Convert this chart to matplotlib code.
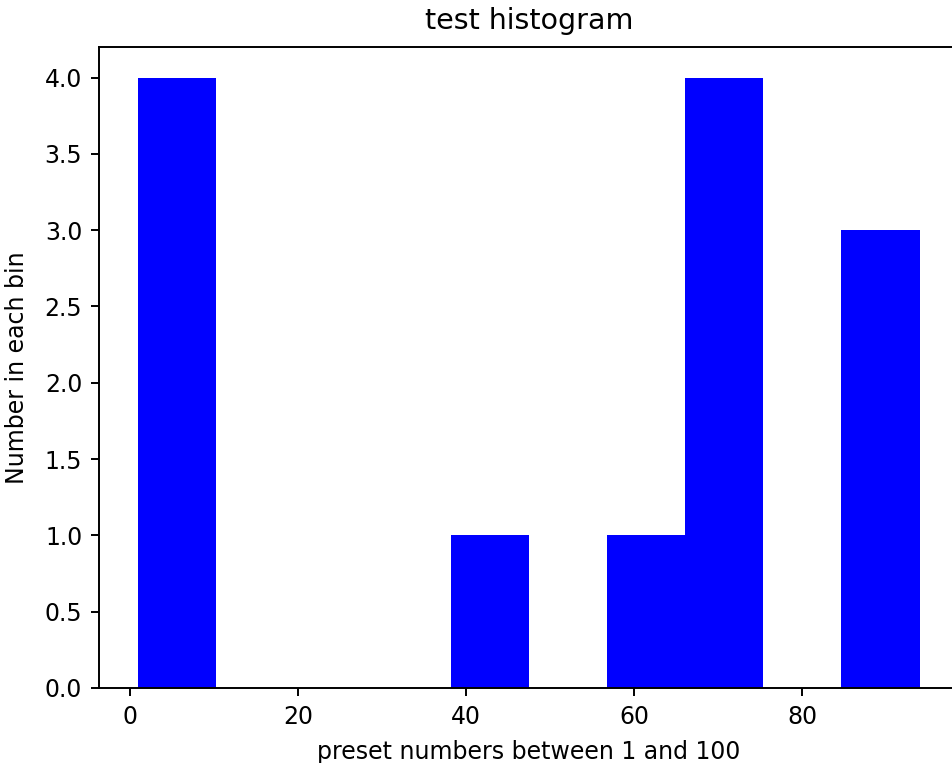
import numpy as np
import matplotlib.pyplot as plt

# preset numbers
numbers = [1, 3, 5, 8, 42, 60, 68, 70, 71, 73, 86, 90, 94]
n_bins = 10

plt.rcParams['font.size'] = 17

fig = plt.figure(figsize=(9.53, 7.63), dpi=100)
ax = fig.add_axes([0.1039, 0.0983, 0.9021, 0.8401])
ax.hist(numbers, bins=n_bins, color='blue')
ax.set_title('test histogram', fontsize=20.5, pad=13)
ax.set_xlabel('preset numbers between 1 and 100', fontsize=17, labelpad=8)
ax.set_ylabel('Number in each bin', fontsize=17, labelpad=11)
for s in ax.spines.values():
    s.set_linewidth(1.4)
ax.tick_params(width=1.4, length=6, pad=6)

fig.savefig('out.png', dpi=100)
